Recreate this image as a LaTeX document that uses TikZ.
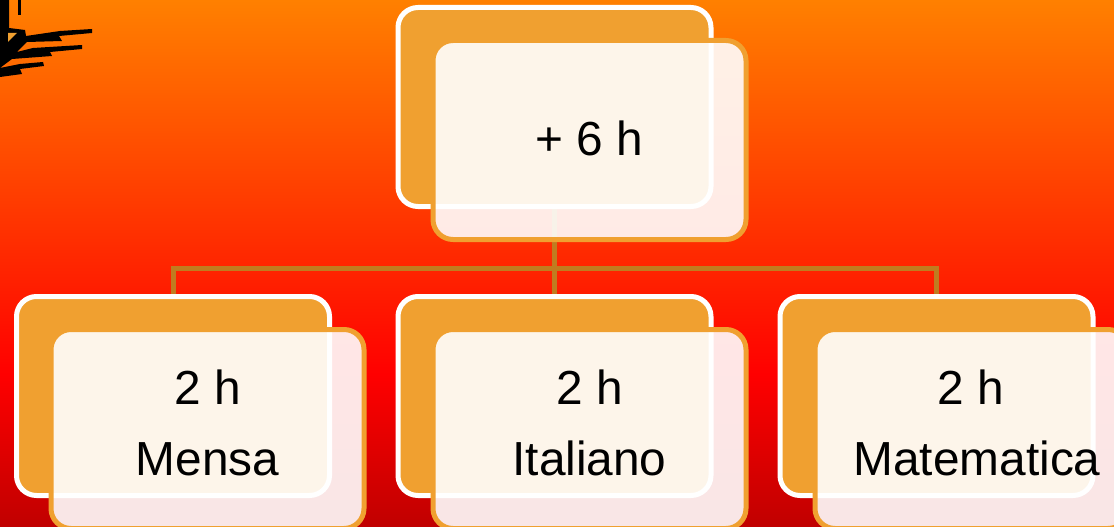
\documentclass[tikz,border=0pt]{standalone}
\usepackage{fontspec}
\setmainfont{Liberation Sans}
\definecolor{boxorange}{HTML}{F0A030}
\definecolor{linkbrown}{HTML}{C07C20}
\definecolor{skytop}{HTML}{FF8000}
\definecolor{skymid}{HTML}{FF0000}
\definecolor{skylow}{HTML}{C00000}
\pgfdeclareverticalshading{sunsetsky}{100bp}{
  color(0bp)=(skylow);
  color(25bp)=(skylow);
  color(39.5bp)=(skymid);
  color(75bp)=(skytop);
  color(100bp)=(skytop)
}
\tikzset{
  backbox/.style={draw=white,line width=5pt,fill=boxorange,rounded corners=20pt,
    minimum width=313pt,minimum height=199pt,outer sep=0pt,inner sep=0pt},
  frontbox/.style={draw=boxorange,line width=5pt,fill=white,fill opacity=.9,draw opacity=1,
    rounded corners=20pt,minimum width=313pt,minimum height=199pt,outer sep=0pt,inner sep=0pt},
  lbl/.style={anchor=base,font=\fontsize{47.8}{50}\selectfont,text=black,inner sep=0pt},
  link/.style={draw=linkbrown,line width=5pt},
  ink/.style={fill=black,draw=none}
}
\begin{document}
\begin{tikzpicture}[x=1pt,y=-1pt]
\useasboundingbox (0,0) rectangle (1114,527);
\clip (0,0) rectangle (1114,527);
\shade[shading=sunsetsky] (0,0) rectangle (1114,527);
% palm silhouette
\fill[ink] (0,0) -- (9,0) -- (9,28) -- (25,30) -- (26,36) -- (60,31) -- (92,29) -- (92,33) -- (59,36) -- (62,41) -- (27,42) -- (17,52) -- (33,48) -- (82,45) -- (82,49) -- (50,52) -- (52,56) -- (12,59) -- (0,68) -- (20,64) -- (43,62) -- (44,66) -- (20,69) -- (22,74) -- (0,77) -- cycle;
\fill[ink] (18,0) -- (21,0) -- (21,15) -- (18,15) -- cycle;
\fill[fill=boxorange] (8,33) -- (17,33) -- (8,42) -- cycle;
% coordinates and boxes
\node[backbox,draw=none,fill=none] (rootback0) at (554.5,107) {};
\node[backbox,draw=none,fill=none] (aback0) at (173,396) {};
\node[backbox,draw=none,fill=none] (bback0) at (554.5,396) {};
\node[backbox,draw=none,fill=none] (cback0) at (936.5,396) {};
\coordinate (bus) at (554.5,268);
\draw[link] (rootback0.south) -- (bus);
\draw[link] (aback0.north) |- (bus) -| (cback0.north);
\draw[link] (bus) -- (bback0.north);
\node[backbox] (rootback) at (554.5,107) {};
\node[frontbox] (rootfront) at (589.5,140) {};
\node[backbox] (aback) at (173,396) {};
\node[frontbox] (afront) at (207.5,429) {};
\node[backbox] (bback) at (554.5,396) {};
\node[frontbox] (bfront) at (589.5,429) {};
\node[backbox] (cback) at (936.5,396) {};
\node[frontbox] (cfront) at (971.5,429) {};
% labels
\node[lbl] (roott) at (589,155) {+ 6 h};
\node[lbl] (ah) at (207.5,404) {2 h};
\node[lbl] (at) at (207.5,475) {Mensa};
\node[lbl] (bh) at (589.5,404) {2 h};
\node[lbl] (bt) at (589.5,475) {Italiano};
\node[lbl] (ch) at (971,404) {2 h};
\node[lbl] (ct) at (977,475) {Matematica};
\end{tikzpicture}
\end{document}
